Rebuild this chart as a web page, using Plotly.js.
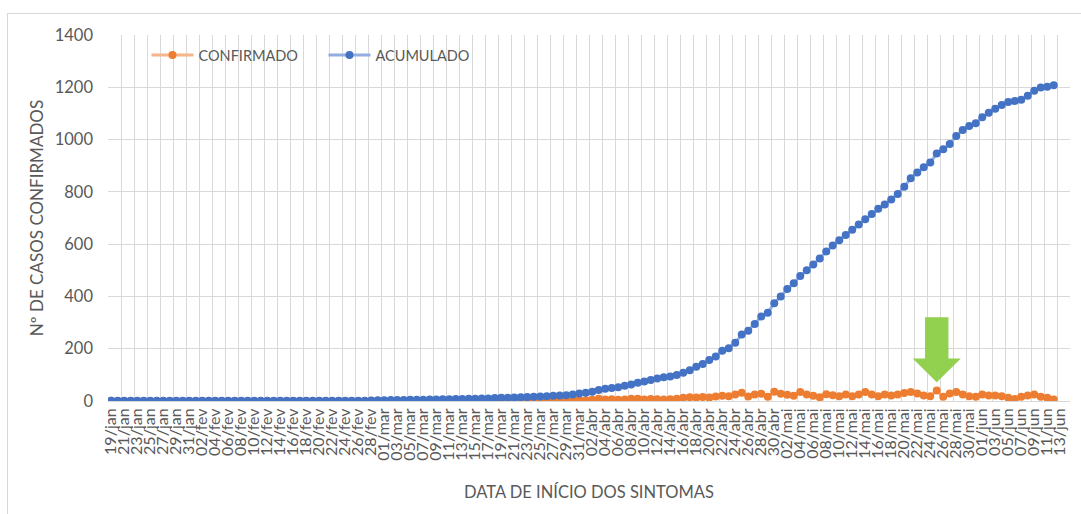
<!DOCTYPE html>
<html>
<head>
<meta charset="utf-8">
<script src="https://cdn.plot.ly/plotly-3.0.1.min.js"></script>
<style>
html,body{margin:0;padding:0;background:#fff;}
#chart{position:absolute;left:0;top:0;width:1081px;height:514px;}
#frame{position:absolute;left:7px;top:13px;width:1100px;height:530px;border:1px solid #d9d9d9;pointer-events:none;}
</style>
</head>
<body>
<div id="chart"></div>
<div id="frame"></div>
<script>
// Category axis: day of symptom onset (19/jan .. 14/jun)
const dates = [
 "19/jan","20/jan","21/jan","22/jan","23/jan","24/jan","25/jan","26/jan","27/jan","28/jan","29/jan","30/jan","31/jan",
 "01/fev","02/fev","03/fev","04/fev","05/fev","06/fev","07/fev","08/fev","09/fev","10/fev","11/fev","12/fev","13/fev","14/fev","15/fev","16/fev","17/fev","18/fev","19/fev","20/fev","21/fev","22/fev","23/fev","24/fev","25/fev","26/fev","27/fev","28/fev","29/fev",
 "01/mar","02/mar","03/mar","04/mar","05/mar","06/mar","07/mar","08/mar","09/mar","10/mar","11/mar","12/mar","13/mar","14/mar","15/mar","16/mar","17/mar","18/mar","19/mar","20/mar","21/mar","22/mar","23/mar","24/mar","25/mar","26/mar","27/mar","28/mar","29/mar","30/mar","31/mar",
 "01/abr","02/abr","03/abr","04/abr","05/abr","06/abr","07/abr","08/abr","09/abr","10/abr","11/abr","12/abr","13/abr","14/abr","15/abr","16/abr","17/abr","18/abr","19/abr","20/abr","21/abr","22/abr","23/abr","24/abr","25/abr","26/abr","27/abr","28/abr","29/abr","30/abr",
 "01/mai","02/mai","03/mai","04/mai","05/mai","06/mai","07/mai","08/mai","09/mai","10/mai","11/mai","12/mai","13/mai","14/mai","15/mai","16/mai","17/mai","18/mai","19/mai","20/mai","21/mai","22/mai","23/mai","24/mai","25/mai","26/mai","27/mai","28/mai","29/mai","30/mai","31/mai",
 "01/jun","02/jun","03/jun","04/jun","05/jun","06/jun","07/jun","08/jun","09/jun","10/jun","11/jun","12/jun","13/jun","14/jun"
];

// Daily confirmed cases (CONFIRMADO)
const confirmado = [
 1,0,0,0,0,0,0,0,0,0,
 0,0,0,0,0,0,0,0,0,0,
 0,0,0,0,0,0,0,0,0,0,
 0,0,0,0,0,0,0,0,0,0,
 1,1,0,1,0,0,1,0,0,1,
 0,1,0,1,0,1,0,1,0,1,
 1,0,1,1,1,1,1,1,2,1,
 1,3,4,3,5,9,6,7,5,6,
 9,9,6,8,7,6,7,9,12,14,
 13,15,13,17,20,18,25,32,17,25,
 28,16,35,28,24,20,34,25,20,14,
 26,22,18,25,18,25,34,25,18,25,
 21,25,31,34,29,21,18,40,16,29,
 34,25,18,16,25,21,21,18,12,8,
 16,21,25,16,12,6
];

// Cumulative cases (ACUMULADO)
const acumulado = [
 1,1,1,1,1,1,1,1,1,1,
 1,1,1,1,1,1,1,1,1,1,
 1,1,1,1,1,1,1,1,1,1,
 1,1,1,1,1,1,1,1,1,1,
 2,3,3,4,4,4,5,5,5,6,
 6,7,7,8,8,9,9,10,10,11,
 12,12,13,14,15,16,17,18,20,21,
 22,25,29,32,35,42,47,50,53,58,
 63,70,75,80,86,91,94,99,108,118,
 131,142,157,170,192,202,223,254,269,295,
 323,338,374,400,428,450,478,500,522,545,
 572,595,615,635,655,675,695,715,735,752,
 771,792,820,852,874,894,912,947,963,983,
 1014,1037,1052,1062,1085,1103,1118,1132,1144,1148,
 1152,1168,1187,1199,1202,1208
];

// Tick labels: every second day
const tickLabels = dates.filter((d, i) => i % 2 === 0);

// Highlighted date (green arrow)
const highlightDate = "25/mai";

const grey = '#595959';
const gridGrey = '#d9d9d9';

const traces = [
  {
    type: 'scatter', mode: 'lines+markers', name: 'CONFIRMADO',
    x: dates.slice(0, confirmado.length), y: confirmado,
    line: {color: '#f6b48a', width: 3},
    marker: {color: '#ed7d31', size: 8},
    hoverinfo: 'x+y'
  },
  {
    type: 'scatter', mode: 'lines+markers', name: 'ACUMULADO',
    x: dates.slice(0, acumulado.length), y: acumulado,
    line: {color: '#93ade0', width: 3},
    marker: {color: '#4472c4', size: 8},
    hoverinfo: 'x+y'
  }
];

const hi = dates.indexOf(highlightDate);
const shaftW = 1.8, headW = 3.7;     // half widths in category units
const yTop = 320, yNeck = 163, yTip = 72;
const arrowPath = 'M ' + (hi - shaftW) + ',' + yTop +
  ' L ' + (hi + shaftW) + ',' + yTop +
  ' L ' + (hi + shaftW) + ',' + yNeck +
  ' L ' + (hi + headW) + ',' + yNeck +
  ' L ' + hi + ',' + yTip +
  ' L ' + (hi - headW) + ',' + yNeck +
  ' L ' + (hi - shaftW) + ',' + yNeck + ' Z';

const layout = {
  width: 1081, height: 514,
  margin: {l: 108, r: 11, t: 35, b: 113},
  paper_bgcolor: '#ffffff', plot_bgcolor: '#ffffff',
  font: {family: 'Lato, "Open Sans", sans-serif', color: grey, size: 14},
  showlegend: true,
  legend: {
    orientation: 'h', x: 0.04, y: 0.945, xanchor: 'left', yanchor: 'middle',
    font: {size: 14.5, color: grey}, itemwidth: 42,
    entrywidth: 120, entrywidthmode: 'pixels',
    bgcolor: 'rgba(0,0,0,0)'
  },
  xaxis: {
    type: 'category', categoryorder: 'array', categoryarray: dates,
    range: [-0.5, dates.length - 0.5],
    tickmode: 'array', tickvals: tickLabels, ticktext: tickLabels,
    tickangle: -90, tickfont: {size: 16, color: grey},
    showgrid: false, zeroline: false, showline: true, linecolor: gridGrey, ticks: '',
    title: {text: 'DATA DE INÍCIO DOS SINTOMAS', font: {size: 16.5, color: grey}, standoff: 26},
    automargin: false, fixedrange: true
  },
  xaxis2: {
    overlaying: 'x', anchor: 'y', side: 'bottom',
    range: [-0.5, dates.length - 0.5], tick0: -0.5, dtick: 2,
    showgrid: true, gridcolor: gridGrey, gridwidth: 1,
    showticklabels: false, ticks: '', zeroline: false, showline: false, fixedrange: true
  },
  yaxis: {
    range: [0, 1400], tick0: 0, dtick: 200,
    showgrid: true, gridcolor: gridGrey, gridwidth: 1, zeroline: false, showline: false,
    ticks: '', ticklabelstandoff: 14, tickfont: {size: 16.5, color: grey},
    title: {text: 'Nº DE CASOS CONFIRMADOS', font: {size: 17, color: grey}, standoff: 6},
    automargin: false, fixedrange: true
  },
  shapes: [{
    type: 'path', xref: 'x2', yref: 'y', path: arrowPath,
    fillcolor: '#92d050', line: {width: 0}, layer: 'above'
  }]
};

Plotly.newPlot('chart', traces, layout, {displayModeBar: false, staticPlot: true});
</script>
</body>
</html>
